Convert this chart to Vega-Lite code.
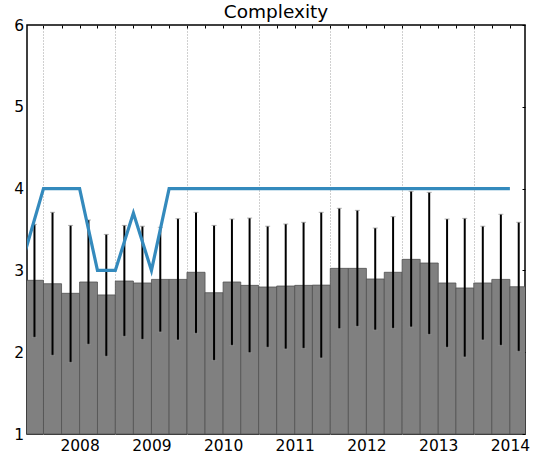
{
  "$schema": "https://vega.github.io/schema/vega-lite/v6.json",
  "width": 498,
  "height": 409,
  "autosize": {"type": "none"},
  "padding": {"left": 27, "top": 25, "right": 8, "bottom": 21},
  "title": {"text": "Complexity", "fontSize": 18.5, "fontWeight": "normal", "color": "black", "baseline": "alphabetic", "offset": 2, "dy": 20, "anchor": "middle"},
  "config": {
    "font": "DejaVu Sans",
    "view": {"stroke": "black", "strokeWidth": 1.5},
    "axis": {"domain": false, "title": null, "labelColor": "black", "labelFontSize": 15.5, "tickColor": "black", "grid": false}
  },
  "data": {"values": [
    {"start": "2007-04-01T00:00:00", "end": "2007-07-01T00:00:00", "mid": "2007-05-16T00:00:00", "mean": 2.879, "lo": 2.182, "hi": 3.563, "median": 3.25},
    {"start": "2007-07-01T00:00:00", "end": "2007-10-01T00:00:00", "mid": "2007-08-16T00:00:00", "mean": 2.837, "lo": 1.962, "hi": 3.71, "median": 4},
    {"start": "2007-10-01T00:00:00", "end": "2008-01-01T00:00:00", "mid": "2007-11-16T00:00:00", "mean": 2.72, "lo": 1.876, "hi": 3.55, "median": 4},
    {"start": "2008-01-01T00:00:00", "end": "2008-04-01T00:00:00", "mid": "2008-02-15T00:00:00", "mean": 2.858, "lo": 2.097, "hi": 3.616, "median": 4},
    {"start": "2008-04-01T00:00:00", "end": "2008-07-01T00:00:00", "mid": "2008-05-16T00:00:00", "mean": 2.7, "lo": 1.95, "hi": 3.44, "median": 3},
    {"start": "2008-07-01T00:00:00", "end": "2008-10-01T00:00:00", "mid": "2008-08-16T00:00:00", "mean": 2.87, "lo": 2.194, "hi": 3.55, "median": 3},
    {"start": "2008-10-01T00:00:00", "end": "2009-01-01T00:00:00", "mid": "2008-11-16T00:00:00", "mean": 2.846, "lo": 2.157, "hi": 3.54, "median": 3.7},
    {"start": "2009-01-01T00:00:00", "end": "2009-04-01T00:00:00", "mid": "2009-02-15T00:00:00", "mean": 2.89, "lo": 2.247, "hi": 3.527, "median": 3},
    {"start": "2009-04-01T00:00:00", "end": "2009-07-01T00:00:00", "mid": "2009-05-16T00:00:00", "mean": 2.89, "lo": 2.149, "hi": 3.632, "median": 4},
    {"start": "2009-07-01T00:00:00", "end": "2009-10-01T00:00:00", "mid": "2009-08-16T00:00:00", "mean": 2.977, "lo": 2.231, "hi": 3.71, "median": 4},
    {"start": "2009-10-01T00:00:00", "end": "2010-01-01T00:00:00", "mid": "2009-11-16T00:00:00", "mean": 2.727, "lo": 1.9, "hi": 3.55, "median": 4},
    {"start": "2010-01-01T00:00:00", "end": "2010-04-01T00:00:00", "mid": "2010-02-15T00:00:00", "mean": 2.858, "lo": 2.084, "hi": 3.628, "median": 4},
    {"start": "2010-04-01T00:00:00", "end": "2010-07-01T00:00:00", "mid": "2010-05-16T00:00:00", "mean": 2.817, "lo": 1.994, "hi": 3.64, "median": 4},
    {"start": "2010-07-01T00:00:00", "end": "2010-10-01T00:00:00", "mid": "2010-08-16T00:00:00", "mean": 2.797, "lo": 2.06, "hi": 3.54, "median": 4},
    {"start": "2010-10-01T00:00:00", "end": "2011-01-01T00:00:00", "mid": "2010-11-16T00:00:00", "mean": 2.809, "lo": 2.039, "hi": 3.567, "median": 4},
    {"start": "2011-01-01T00:00:00", "end": "2011-04-01T00:00:00", "mid": "2011-02-15T00:00:00", "mean": 2.817, "lo": 2.047, "hi": 3.588, "median": 4},
    {"start": "2011-04-01T00:00:00", "end": "2011-07-01T00:00:00", "mid": "2011-05-16T00:00:00", "mean": 2.82, "lo": 1.929, "hi": 3.71, "median": 4},
    {"start": "2011-07-01T00:00:00", "end": "2011-10-01T00:00:00", "mid": "2011-08-16T00:00:00", "mean": 3.025, "lo": 2.287, "hi": 3.759, "median": 4},
    {"start": "2011-10-01T00:00:00", "end": "2012-01-01T00:00:00", "mid": "2011-11-16T00:00:00", "mean": 3.025, "lo": 2.316, "hi": 3.734, "median": 4},
    {"start": "2012-01-01T00:00:00", "end": "2012-04-01T00:00:00", "mid": "2012-02-15T00:00:00", "mean": 2.895, "lo": 2.271, "hi": 3.518, "median": 4},
    {"start": "2012-04-01T00:00:00", "end": "2012-07-01T00:00:00", "mid": "2012-05-16T00:00:00", "mean": 2.977, "lo": 2.292, "hi": 3.657, "median": 4},
    {"start": "2012-07-01T00:00:00", "end": "2012-10-01T00:00:00", "mid": "2012-08-16T00:00:00", "mean": 3.135, "lo": 2.308, "hi": 3.967, "median": 4},
    {"start": "2012-10-01T00:00:00", "end": "2013-01-01T00:00:00", "mid": "2012-11-16T00:00:00", "mean": 3.09, "lo": 2.218, "hi": 3.954, "median": 4},
    {"start": "2013-01-01T00:00:00", "end": "2013-04-01T00:00:00", "mid": "2013-02-15T00:00:00", "mean": 2.846, "lo": 2.06, "hi": 3.628, "median": 4},
    {"start": "2013-04-01T00:00:00", "end": "2013-07-01T00:00:00", "mid": "2013-05-16T00:00:00", "mean": 2.785, "lo": 1.941, "hi": 3.636, "median": 4},
    {"start": "2013-07-01T00:00:00", "end": "2013-10-01T00:00:00", "mid": "2013-08-16T00:00:00", "mean": 2.846, "lo": 2.149, "hi": 3.54, "median": 4},
    {"start": "2013-10-01T00:00:00", "end": "2014-01-01T00:00:00", "mid": "2013-11-16T00:00:00", "mean": 2.89, "lo": 2.084, "hi": 3.686, "median": 4},
    {"start": "2014-01-01T00:00:00", "end": "2014-04-01T00:00:00", "mid": "2014-02-15T00:00:00", "mean": 2.8, "lo": 2.011, "hi": 3.588, "median": 4}
  ]},
  "resolve": {"axis": {"x": "independent", "y": "independent"}},
  "layer": [
    {
      "mark": {"type": "bar", "color": "#808080", "stroke": "#505050", "strokeWidth": 0.8, "clip": true},
      "encoding": {
        "x": {"field": "start", "type": "temporal",
              "scale": {"domain": [{"year": 2007, "month": 4, "date": 8}, {"year": 2014, "month": 3, "date": 19}]},
              "axis": {"orient": "bottom", "format": "%Y", "ticks": false, "labelPadding": 4,
                       "values": [{"year": 2008, "month": 1, "date": 1}, {"year": 2009, "month": 1, "date": 1}, {"year": 2010, "month": 1, "date": 1}, {"year": 2011, "month": 1, "date": 1}, {"year": 2012, "month": 1, "date": 1}, {"year": 2013, "month": 1, "date": 1}, {"year": 2014, "month": 1, "date": 1}]}},
        "x2": {"field": "end"},
        "y": {"field": "mean", "type": "quantitative",
              "scale": {"domain": [1, 6], "nice": false, "zero": false},
              "axis": {"orient": "left", "values": [1, 2, 3, 4, 5, 6], "ticks": false, "labelPadding": 3.5}},
        "y2": {"datum": 1}
      }
    },
    {
      "mark": {"type": "rule", "color": "black", "strokeWidth": 2, "clip": true},
      "encoding": {
        "x": {"field": "mid", "type": "temporal", "axis": null},
        "y": {"field": "lo", "type": "quantitative", "axis": null},
        "y2": {"field": "hi"}
      }
    },
    {
      "mark": {"type": "tick", "orient": "horizontal", "color": "#909090", "size": 5, "thickness": 1, "clip": true},
      "encoding": {
        "x": {"field": "mid", "type": "temporal", "axis": null},
        "y": {"field": "lo", "type": "quantitative", "axis": null}
      }
    },
    {
      "mark": {"type": "tick", "orient": "horizontal", "color": "#909090", "size": 5, "thickness": 1, "clip": true},
      "encoding": {
        "x": {"field": "mid", "type": "temporal", "axis": null},
        "y": {"field": "hi", "type": "quantitative", "axis": null}
      }
    },
    {
      "mark": {"type": "line", "color": "#348ABD", "strokeWidth": 3.2, "clip": true},
      "encoding": {
        "x": {"field": "start", "type": "temporal",
              "axis": {"orient": "top", "labels": false, "tickSize": -3, "tickCount": {"interval": "month", "step": 3},
                       "grid": true, "gridColor": "#a0a0a0", "gridDash": [1, 2], "gridWidth": 1,
                       "gridOpacity": {"condition": {"test": "month(datum.value) == 6", "value": 1}, "value": 0}}},
        "y": {"field": "median", "type": "quantitative",
              "axis": {"orient": "right", "labels": false, "tickSize": -3, "values": [1, 2, 3, 4, 5, 6]}}
      }
    }
  ]
}
